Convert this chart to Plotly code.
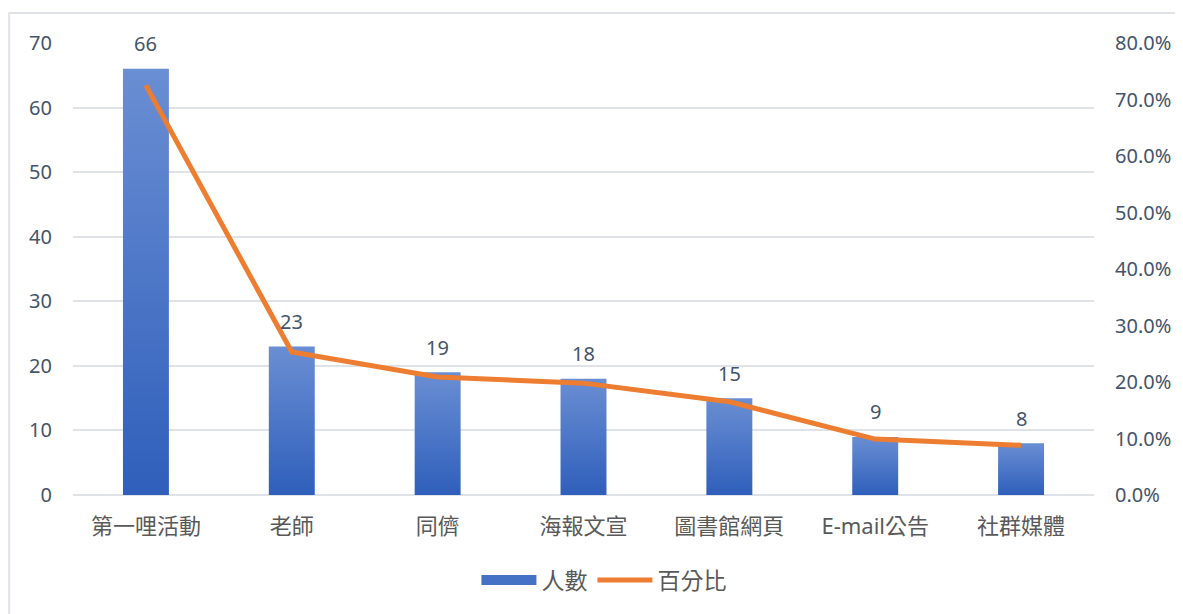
import plotly.graph_objects as go

categories = ["第一哩活動", "老師", "同儕", "海報文宣", "圖書館網頁", "E-mail公告", "社群媒體"]
counts = [66, 23, 19, 18, 15, 9, 8]
percents = [0.725, 0.253, 0.209, 0.198, 0.165, 0.099, 0.088]

BAR_HALF = 0.1575
TOP_COLOR = "#6a8ed3"
BOTTOM_COLOR = "#2f5fbb"
LINE_COLOR = "#ED7D31"
GRID = "#dfe2e7"
TXT = "#44546A"
FONT = "Noto Sans, Noto Sans CJK TC"

fig = go.Figure()

idx = list(range(len(categories)))
for i, v in zip(idx, counts):
    fig.add_trace(go.Scatter(
        x=[i - BAR_HALF, i + BAR_HALF, i + BAR_HALF, i - BAR_HALF, i - BAR_HALF],
        y=[0, 0, v, v, 0],
        mode="lines", line=dict(width=0), fill="toself",
        fillgradient=dict(type="vertical", start=0, stop=v,
                          colorscale=[[0, BOTTOM_COLOR], [1, TOP_COLOR]]),
        showlegend=False, hoverinfo="skip",
    ))

# legend entry for bars
fig.add_trace(go.Scatter(x=[None], y=[None], name="人數", mode="lines",
                         line=dict(color="#4472C4", width=14)))

fig.add_trace(go.Scatter(
    x=idx, y=percents, name="百分比", mode="lines",
    line=dict(color=LINE_COLOR, width=5), yaxis="y2",
))

for i, v in zip(idx, counts):
    fig.add_annotation(x=i, y=v, text=str(v), showarrow=False, yshift=25,
                       yanchor="middle", font=dict(size=20, color=TXT, family=FONT))

fig.add_shape(type="rect", xref="paper", yref="paper",
              x0=1 / 1024 - 65 / 1024, x1=1.3, y0=-0.5, y1=(487 - 5) / 452,
              line=dict(color=GRID, width=2), fillcolor="rgba(0,0,0,0)", layer="below")

fig.update_layout(
    width=1175, height=606,
    margin=dict(l=65, r=86, t=35, b=119),
    paper_bgcolor="white", plot_bgcolor="white",
    font=dict(family=FONT, color=TXT, size=20),
    showlegend=True,
    legend=dict(orientation="h", x=0.52, xanchor="center", y=-0.188, yanchor="middle",
                itemwidth=55, tracegroupgap=0,
                font=dict(size=23, color="#595959", family="Noto Sans CJK TC")),
    xaxis=dict(range=[-0.5, 6.5], tickvals=idx, ticktext=categories,
               showgrid=False, zeroline=False, showline=False,
               ticks="", ticklabelstandoff=16,
               tickfont=dict(size=22, color="#595959", family=FONT)),
    yaxis=dict(range=[0, 70], dtick=10, showgrid=True, gridcolor=GRID, gridwidth=1.5,
               zeroline=True, zerolinecolor=GRID, zerolinewidth=1.5,
               ticks="", ticklabelstandoff=20, tickfont=dict(size=20, color=TXT)),
    yaxis2=dict(range=[0, 0.8], dtick=0.1, tickformat=".1%", overlaying="y", side="right",
                showgrid=False, zeroline=False, ticks="", ticklabelstandoff=20,
                tickfont=dict(size=20, color=TXT)),
)

fig.write_html("out.html")
